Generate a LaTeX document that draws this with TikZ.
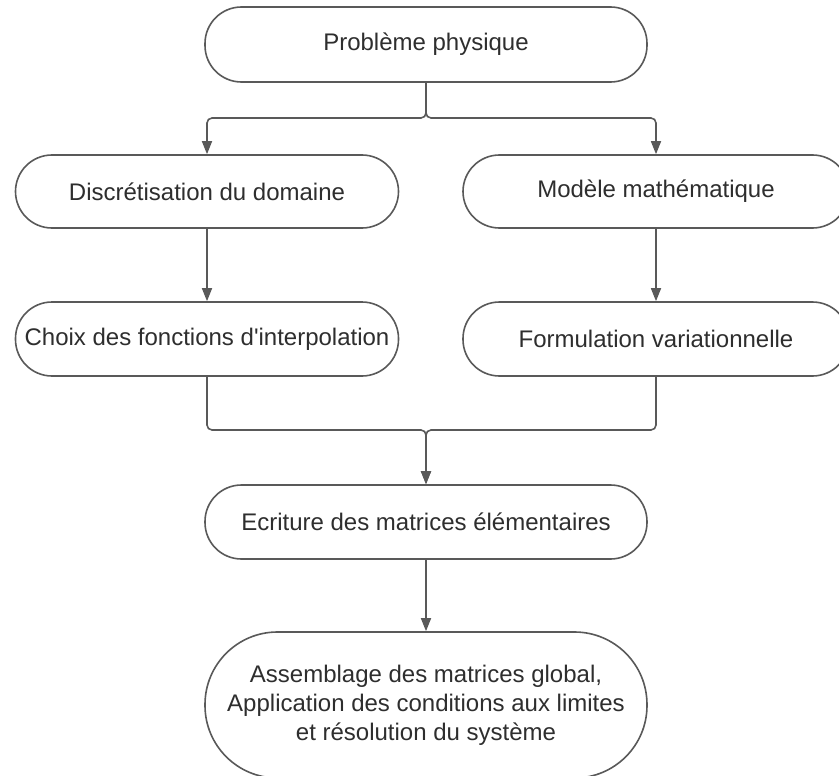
\documentclass[tikz,border=0pt]{standalone}
\usepackage{fontspec}
\setmainfont{Liberation Sans}
\usetikzlibrary{arrows.meta}
\definecolor{linegray}{HTML}{595959}
\definecolor{textgray}{HTML}{2E2E2E}
\begin{document}
\begin{tikzpicture}[x=1pt,y=-1pt,
  box/.style={draw=linegray, line width=1.6pt, fill=white, text=textgray,
    font=\fontsize{24}{29}\selectfont, align=center, inner sep=0pt,
    minimum height=74pt, rounded corners=36.5pt},
  conn/.style={draw=linegray, line width=1.6pt, rounded corners=5pt,
    -{Triangle[length=13pt,width=10pt]}}]
\useasboundingbox (0,0) rectangle (839,776);

% process steps
\node[box, minimum width=442pt, minimum height=75pt] (prob) at (426,44.5) {Problème physique};
\node[box, minimum width=383pt, minimum height=73pt] (disc) at (207,191.5) {Discrétisation du domaine};
\node[box, minimum width=386pt, minimum height=73pt] (mod) at (656,191.5) {Modèle mathématique};
\node[box, minimum width=383pt] (choix) at (207,339) {Choix des fonctions d\textquotesingle interpolation};
\node[box, minimum width=386pt] (form) at (656,339) {Formulation variationnelle};
\node[box, minimum width=442pt] (ecr) at (426,522) {Ecriture des matrices élémentaires};
\node[box, minimum width=442pt, minimum height=146pt, rounded corners=72.5pt] (ass) at (426,705)
  {Assemblage des matrices global,\\Application des conditions aux limites\\et résolution du système};

% junction points
\coordinate (split) at (426,118);
\coordinate (merge) at (426,430);

% connectors
\draw[conn] (prob.south) -- (split) -| (disc.north);
\draw[conn] (prob.south) -- (split) -| (mod.north);
\draw[conn] (disc) -- (choix);
\draw[conn] (mod) -- (form);
\draw[conn] (choix.south) |- (merge) -- (ecr.north);
\draw[conn] (form.south) |- (merge) -- (ecr.north);
\draw[conn] (ecr) -- (ass);
\end{tikzpicture}
\end{document}
